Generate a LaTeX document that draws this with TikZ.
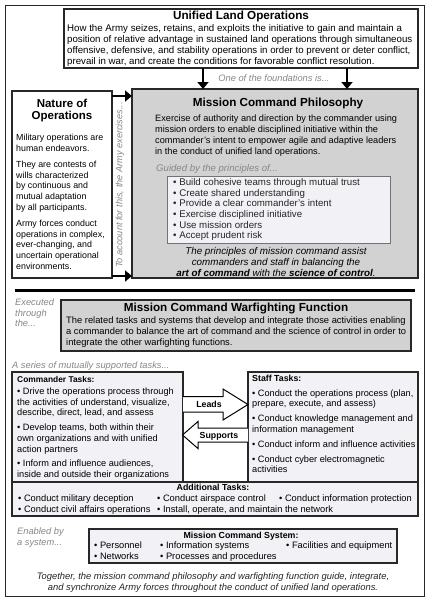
\documentclass[tikz,border=0pt]{standalone}
\usepackage{fontspec}
\setmainfont{Liberation Sans}
\usetikzlibrary{arrows.meta}
\definecolor{boxgray}{RGB}{210,210,210}
\definecolor{lightfill}{RGB}{242,242,246}
\definecolor{notegray}{RGB}{135,135,135}
\definecolor{edge}{RGB}{40,40,40}
\begin{document}
\begin{tikzpicture}[x=1pt,y=-1pt,
  box/.style={draw=edge,line width=1.1pt,inner sep=0pt,outer sep=0pt,anchor=north west},
  graybox/.style={box,fill=boxgray},
  lightbox/.style={box,fill=lightfill},
  body/.style={inner sep=0pt,anchor=north west,align=left,font=\fontsize{9.2}{11}\selectfont},
  title/.style={inner sep=0pt,font=\bfseries\fontsize{11.7}{12}\selectfont,align=center,anchor=base},
  subtitle/.style={inner sep=0pt,font=\bfseries\fontsize{8.8}{10}\selectfont},
  note/.style={inner sep=0pt,text=notegray,font=\itshape\fontsize{9.3}{10.5}\selectfont,align=left},
  item/.style={inner sep=0pt,anchor=base west,font=\fontsize{9.3}{10}\selectfont},
  bigarrow/.style={line width=2.6pt,draw=black,-{Triangle[width=11pt,length=7pt]}},
  blockarrow/.style={draw=black,line width=1pt,fill=white,line join=miter}
]
\useasboundingbox (0,0) rectangle (429,600);
% outer frame
\node[box,draw=edge,line width=0.9pt,fill=white,minimum width=419pt,minimum height=591pt] (frame) at (5,5) {};

% Unified Land Operations
\node[box,fill=white,minimum width=354pt,minimum height=59pt] (ulo) at (64,9) {};
\node[title] (ulot) at (241,19.8) {Unified Land Operations};
\node[body,font=\fontsize{9.7}{11}\selectfont] (ulotext) at (67,24.4) {How the Army seizes, retains, and exploits the initiative to gain and maintain a\\
position of relative advantage in sustained land operations through simultaneous\\
offensive, defensive, and stability operations in order to prevent or deter conflict,\\
prevail in war, and create the conditions for favorable conflict resolution.};

% Mission Command Philosophy
\node[graybox,minimum width=286pt,minimum height=189pt] (mcp) at (132,89) {};
\node[title] (mcpt) at (278,106.5) {Mission Command Philosophy};
\node[body] (mcptext) at (155,114.7) {Exercise of authority and direction by the commander using\\
mission orders to enable disciplined initiative within the\\
commander’s intent to empower agile and adaptive leaders\\
in the conduct of unified land operations.};
\node[note,anchor=base west,font=\itshape\fontsize{9.6}{10.5}\selectfont] (guided) at (156,171.5) {Guided by the principles of...};
\node[box,draw=black!55,line width=0.8pt,fill=lightfill,minimum width=223pt,minimum height=67pt] (princ) at (167,176) {};
\node[body,text=black!85,font=\fontsize{9.7}{10.6}\selectfont] (princtext) at (173,178.4) {• Build cohesive teams through mutual trust\\
• Create shared understanding\\
• Provide a clear commander’s intent\\
• Exercise disciplined initiative\\
• Use mission orders\\
• Accept prudent risk};
\node[inner sep=0pt,align=center,font=\itshape\fontsize{9.8}{10.7}\selectfont] (mcpconc) at (276,262) {The principles of mission command assist\\
commanders and staff in balancing the\\
\textbf{art of command} with the \textbf{science of control}.};

% Arrows from ULO
\node[note,anchor=base] (found) at (274,81.5) {One of the foundations is...};
\coordinate (d1) at (203,0);
\coordinate (d2) at (347,0);
\draw[bigarrow] (ulo.south -| d1) -- (mcp.north -| d1);
\draw[bigarrow] (ulo.south -| d2) -- (mcp.north -| d2);

% Nature of Operations
\node[box,fill=white,minimum width=100pt,minimum height=187pt] (nat) at (12,91) {};
\node[inner sep=0pt,font=\bfseries\fontsize{11.5}{12}\selectfont,align=center,anchor=north] (natt) at (62,98.5) {Nature of\\Operations};
\node[body,font=\fontsize{8.85}{10.6}\selectfont] (nattext) at (16,133.8) {Military operations are\\
human endeavors.\\[6pt]
They are contests of\\
wills characterized\\
by continuous and\\
mutual adaptation\\
by all participants.\\[6pt]
Army forces conduct\\
operations in complex,\\
ever-changing, and\\
uncertain operational\\
environments.};
\node[note,rotate=90,anchor=center,font=\itshape\fontsize{9.2}{10}\selectfont] (account) at (120,185) {To account for this, the Army exercises...};
\coordinate (r1) at (0,96);
\coordinate (r2) at (0,276);
\draw[bigarrow] (nat.east |- r1) -- (mcp.west |- r1);
\draw[bigarrow] (nat.east |- r2) -- (mcp.west |- r2);

% separator
\coordinate (s1) at (15,290);
\coordinate (s2) at (415,290);
\draw[line width=3pt] (s1) -- (s2);

% Warfighting function
\node[note,anchor=north west] (exec) at (15,299) {Executed\\through\\the...};
\node[graybox,minimum width=350pt,minimum height=51pt] (mcwf) at (61,300) {};
\node[title] (mcwft) at (236,311.5) {Mission Command Warfighting Function};
\node[body,font=\fontsize{9.35}{11}\selectfont] (mcwftext) at (66,316.6) {The related tasks and systems that develop and integrate those activities enabling\\
a commander to balance the art of command and the science of control in order to\\
integrate the other warfighting functions.};

\node[note,anchor=base west] (series) at (12,368.5) {A series of mutually supported tasks...};

% Commander tasks
\node[lightbox,minimum width=171pt,minimum height=110pt] (cmd) at (12,372) {};
\node[subtitle,anchor=west,font=\bfseries\fontsize{8.4}{10}\selectfont] (cmdt) at (17,379) {Commander Tasks:};
\node[body,font=\fontsize{9.2}{10.7}\selectfont] (cmdtext) at (17,387.7) {• Drive the operations process through\\
the activities of understand, visualize,\\
describe, direct, lead, and assess\\[4pt]
• Develop teams, both within their\\
own organizations and with unified\\
action partners\\[4pt]
• Inform and influence audiences,\\
inside and outside their organizations};

% Staff tasks
\node[lightbox,minimum width=170pt,minimum height=110pt] (staff) at (248,372) {};
\node[subtitle,anchor=west] (stafft) at (252,378) {Staff Tasks:};
\node[body,font=\fontsize{9.2}{10.3}\selectfont] (stafftext) at (252,389.7) {• Conduct the operations process (plan,\\
prepare, execute, and assess)\\[4.7pt]
• Conduct knowledge management and\\
information management\\[4.7pt]
• Conduct inform and influence activities\\[4.7pt]
• Conduct cyber electromagnetic\\
activities};

% Leads / Supports block arrows
\filldraw[blockarrow] (183,396.5) -- (223,396.5) -- (223,389) -- (248,404.5) -- (223,420) -- (223,412) -- (183,412);
\node[subtitle] (leads) at (209,404.5) {Leads};
\filldraw[blockarrow] (248,428) -- (198,428) -- (198,421.5) -- (182.5,435) -- (198,448.5) -- (198,442) -- (248,442);
\node[subtitle,anchor=base] (supports) at (219,438.2) {Supports};

% Additional tasks
\node[lightbox,minimum width=406pt,minimum height=34pt] (add) at (12,482) {};
\node[subtitle] (addt) at (213,487.5) {Additional Tasks:};
\node[item] (a1) at (18,501.5) {• Conduct military deception};
\node[item] (a2) at (157,501.5) {• Conduct airspace control};
\node[item] (a3) at (279,501.5) {• Conduct information protection};
\node[item] (a4) at (18,512) {• Conduct civil affairs operations};
\node[item] (a5) at (157,512) {• Install, operate, and maintain the network};

% Mission command system
\node[note,anchor=north west] (enabled) at (17,528) {Enabled by\\a system...};
\node[lightbox,minimum width=308pt,minimum height=34pt] (mcs) at (89,529) {};
\node[subtitle] (mcst) at (241,536) {Mission Command System:};
\node[item] (m1) at (94,548.5) {• Personnel};
\node[item] (m2) at (160,548.5) {• Information systems};
\node[item] (m3) at (286,548.5) {• Facilities and equipment};
\node[item] (m4) at (94,559) {• Networks};
\node[item] (m5) at (160,559) {• Processes and procedures};

% conclusion
\node[inner sep=0pt,align=center,font=\itshape\fontsize{9.4}{11}\selectfont,text=black!85] (concl) at (213,583) {Together, the mission command philosophy and warfighting function guide, integrate,\\
and synchronize Army forces throughout the conduct of unified land operations.};
\end{tikzpicture}
\end{document}
